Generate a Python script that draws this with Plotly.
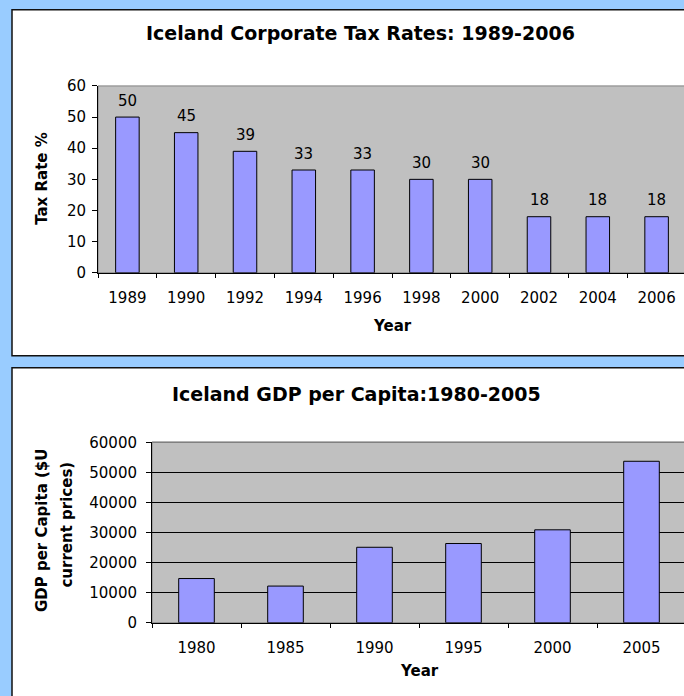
import plotly.graph_objects as go

# ---- data ----
tax_years = ["1989", "1990", "1992", "1994", "1996", "1998", "2000", "2002", "2004", "2006"]
tax_rates = [50, 45, 39, 33, 33, 30, 30, 18, 18, 18]

gdp_years = ["1980", "1985", "1990", "1995", "2000", "2005"]
gdp_values = [14700, 12200, 25100, 26350, 30900, 53700]

W, H = 684, 696
FONT = "DejaVu Sans, Liberation Sans, Arial, sans-serif"
BAR_FILL = "#9999FF"
PANEL_BG = "#99CCFF"
PLOT_BG = "#C0C0C0"

# vertical compensation for how the page is photographed
Y_OFF, Y_SCALE = 8.0, 0.975


def px(x):
    return x / W


def fy(t):
    """figure pixel y for a target picture pixel y"""
    return (t - Y_OFF) / Y_SCALE


def py(t):
    return 1 - fy(t) / H


def py_raw(y):
    return 1 - y / H


fig = go.Figure()

fig.add_trace(go.Bar(
    x=tax_years, y=tax_rates, xaxis="x", yaxis="y",
    marker=dict(color=BAR_FILL, line=dict(color="black", width=1)),
    hoverinfo="skip", showlegend=False,
))
fig.add_trace(go.Bar(
    x=gdp_years, y=gdp_values, xaxis="x2", yaxis="y2",
    marker=dict(color=BAR_FILL, line=dict(color="black", width=1)),
    hoverinfo="skip", showlegend=False,
))

annotations = []
for i, v in enumerate(tax_rates):
    annotations.append(dict(
        x=i, y=v, xref="x", yref="y", text=str(v), showarrow=False,
        yshift=16.4, xanchor="center", yanchor="middle",
        font=dict(family=FONT, size=15, color="black"),
    ))

bold = dict(family=FONT, color="black")
annotations += [
    dict(x=px(360), y=py(32), xref="paper", yref="paper", showarrow=False,
         text="<b>Iceland Corporate Tax Rates: 1989-2006</b>",
         xanchor="center", yanchor="middle", font=dict(size=19, **bold)),
    dict(x=px(357), y=py(393), xref="paper", yref="paper", showarrow=False,
         text="<b>Iceland GDP per Capita:1980-2005</b>",
         xanchor="center", yanchor="middle", font=dict(size=19, **bold)),
    dict(x=px(392), y=py(325), xref="paper", yref="paper", showarrow=False,
         text="<b>Year</b>", xanchor="center", yanchor="middle",
         font=dict(size=15, **bold)),
    dict(x=px(419), y=py(671), xref="paper", yref="paper", showarrow=False,
         text="<b>Year</b>", xanchor="center", yanchor="middle",
         font=dict(size=15, **bold)),
    dict(x=px(42), y=py(178), xref="paper", yref="paper", showarrow=False,
         text="<b>Tax Rate %</b>", textangle=-90, xanchor="center", yanchor="middle",
         font=dict(size=15, **bold)),
    dict(x=px(41.5), y=py(530), xref="paper", yref="paper", showarrow=False,
         text="<b>GDP per Capita ($U</b>", textangle=-90, xanchor="center", yanchor="middle",
         font=dict(size=15, **bold)),
    dict(x=px(67), y=py(524), xref="paper", yref="paper", showarrow=False,
         text="<b>current prices)</b>", textangle=-90, xanchor="center", yanchor="middle",
         font=dict(size=15, **bold)),
]

shapes = [
    # white panels with dark borders
    dict(type="rect", xref="paper", yref="paper", x0=px(12), x1=1.05, y0=py(355), y1=py_raw(0.75),
         fillcolor="white", line=dict(color="#111111", width=1.5), layer="below"),
    dict(type="rect", xref="paper", yref="paper", x0=px(12), x1=1.05, y0=-0.05, y1=py(367),
         fillcolor="white", line=dict(color="#111111", width=1.5), layer="below"),
    # gray plot areas
    dict(type="rect", xref="x domain", yref="y domain", x0=0, x1=1.02, y0=0, y1=1,
         fillcolor=PLOT_BG, line=dict(color="#808080", width=1), layer="below"),
    dict(type="rect", xref="x2 domain", yref="y2 domain", x0=0, x1=1.02, y0=0, y1=1,
         fillcolor=PLOT_BG, line=dict(color="#808080", width=1), layer="below"),
    # gray top border of lower plot area over the top gridline
    dict(type="line", xref="x2 domain", yref="y2 domain", x0=0, x1=1.02, y0=1, y1=1,
         line=dict(color="#808080", width=1.5), layer="above"),
]

xcommon = dict(
    type="category", tickson="boundaries", ticks="outside", ticklen=4,
    tickcolor="black", showline=True, linecolor="black", linewidth=1,
    showgrid=False, zeroline=False, tickfont=dict(family=FONT, size=15, color="black"),
    ticklabelstandoff=11, fixedrange=True,
)
ycommon = dict(
    ticks="outside", ticklen=5, tickcolor="black", showline=True, linecolor="black",
    linewidth=1, zeroline=False, tickfont=dict(family=FONT, size=15, color="black"),
    fixedrange=True,
)

fig.update_layout(
    width=W, height=H,
    margin=dict(l=0, r=0, t=0, b=0),
    paper_bgcolor=PANEL_BG,
    plot_bgcolor="rgba(0,0,0,0)",
    bargap=0.6,
    showlegend=False,
    font=dict(family=FONT, color="black"),
    xaxis=dict(domain=[px(98), 1], range=[-0.5, 9.466], anchor="y", **xcommon),
    yaxis=dict(domain=[py(272), py(85)], range=[0, 60], dtick=10, anchor="x",
               showgrid=False, ticklabelstandoff=3, **ycommon),
    xaxis2=dict(domain=[px(152), 1], range=[-0.5, 5.4775], anchor="y2", **xcommon),
    yaxis2=dict(domain=[py(622.3), py(441.7)], range=[0, 60000], dtick=10000, anchor="x2",
                tickformat="d", showgrid=True, gridcolor="black", gridwidth=1,
                ticklabelstandoff=6, **ycommon),
    shapes=shapes,
    annotations=annotations,
)

fig.write_html(
    "out.html",
    config={"displayModeBar": False, "staticPlot": True},
    post_script=(
        "document.documentElement.style.margin='0';"
        "document.documentElement.style.overflow='hidden';"
        "document.body.style.margin='0';"
        "document.body.style.overflow='hidden';"
        "var gd=document.getElementById('{plot_id}');"
        "gd.style.position='fixed';gd.style.left='0px';gd.style.top='0px';"
    ),
)
